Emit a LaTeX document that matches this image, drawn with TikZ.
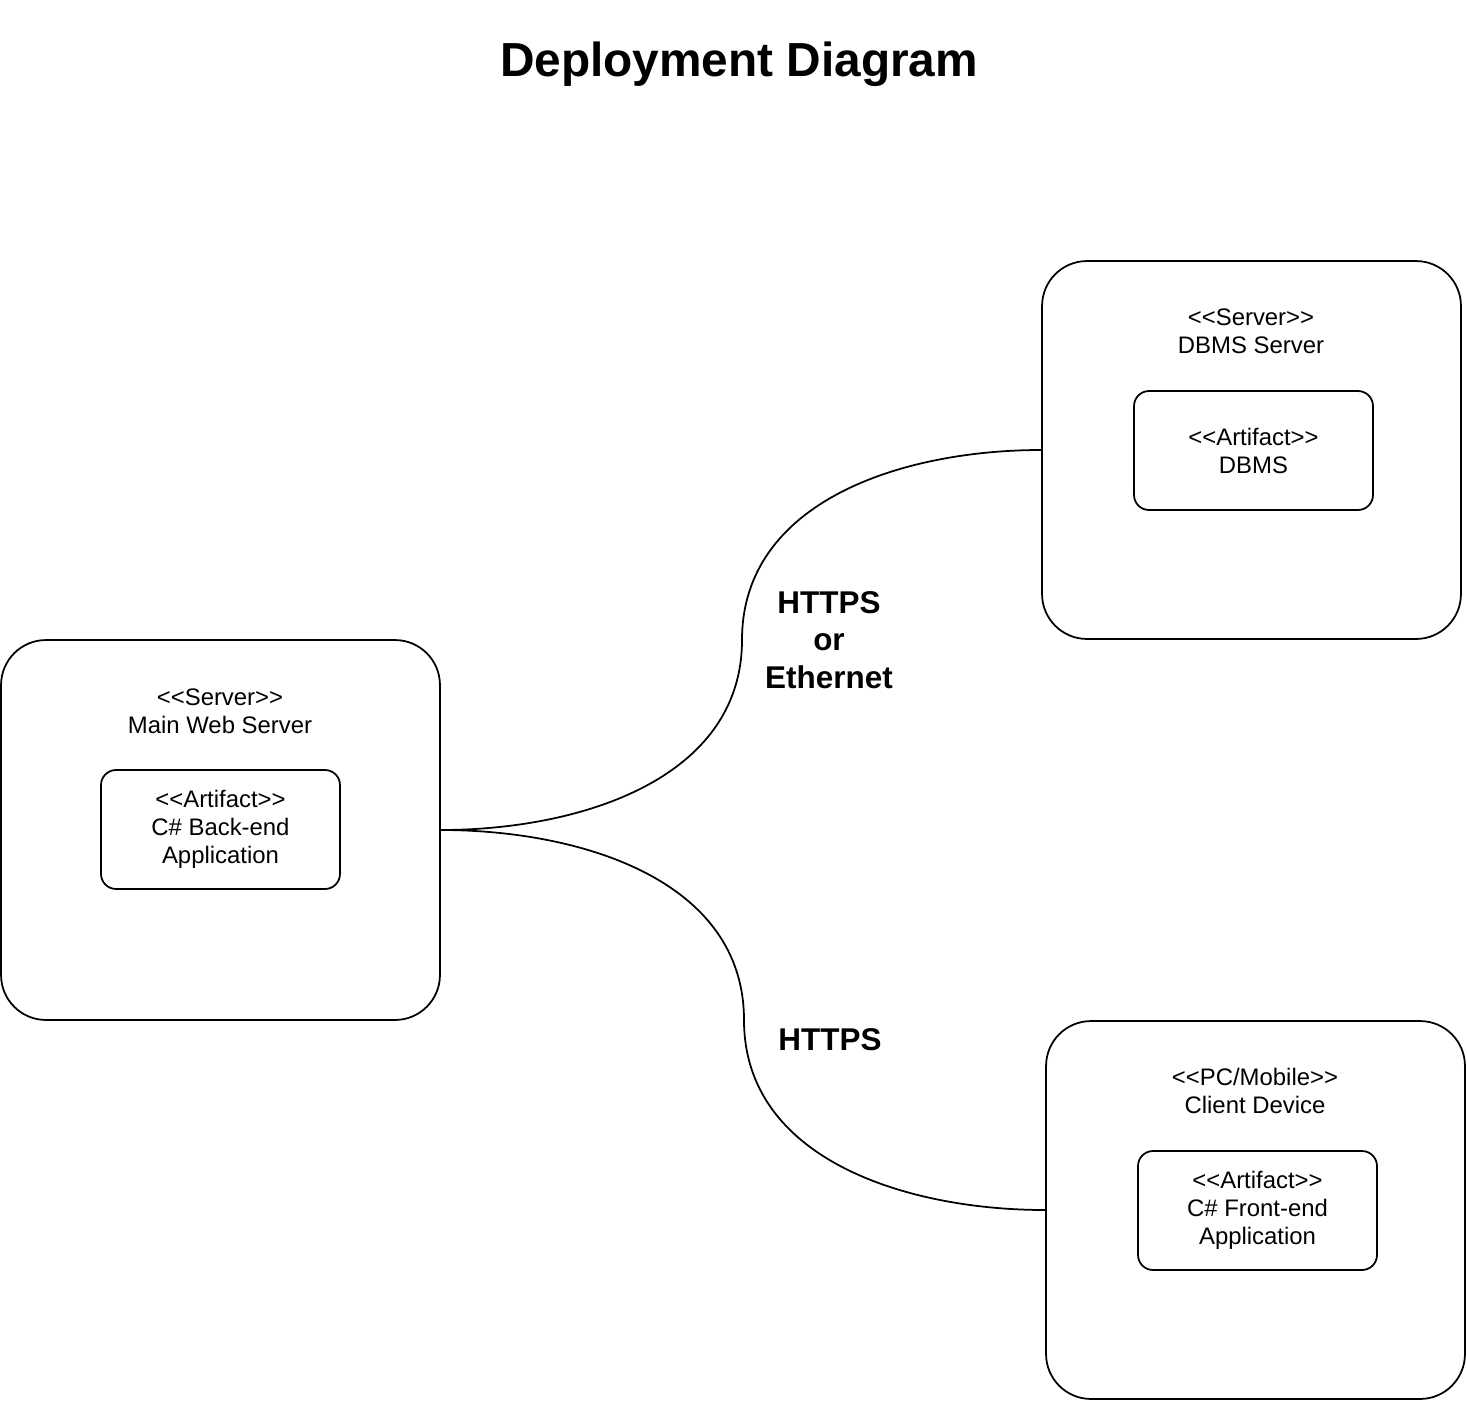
\documentclass[tikz,border=0pt]{standalone}
\usepackage{fontspec}
\setmainfont{Liberation Sans}
\newcommand\stype[1]{<\kern0pt<#1>\kern0pt>}
\begin{document}
\begin{tikzpicture}[x=0.02cm,y=-0.02cm,line width=1pt,
	node/.style ={draw, rounded corners=0.9cm, minimum width=8.78cm, minimum height=7.6cm},
	artifact/.style ={draw, rounded corners=0.3cm, minimum width=4.78cm, minimum height=2.38cm, align=center, font=\fontsize{13.6pt}{15.9pt}\selectfont},
	txt/.style ={align=center, inner sep=0pt, font=\fontsize{13.6pt}{15.9pt}\selectfont},
	link/.style ={align=center, inner sep=0pt, font=\fontsize{17.9pt}{21.5pt}\selectfont\bfseries}]
		\useasboundingbox (0,0) rectangle (1467,1403);
		\node[inner sep=0pt, font=\fontsize{27.2pt}{32pt}\selectfont\bfseries] (title) at (739,64) {Deployment Diagram};
		% nodes
		\node[node] (web) at (220.5,830) {};
		\node[node, minimum width=8.38cm, minimum height=7.56cm] (dbms) at (1251.5,450) {};
		\node[node, minimum width=8.38cm, minimum height=7.56cm] (client) at (1255.5,1210) {};
		\node[txt] (tweb) at (220,711) {\stype{Server}\\Main Web Server};
		\node[txt] (tdbms) at (1251,331) {\stype{Server}\\DBMS Server};
		\node[txt] (tclient) at (1255,1091) {\stype{PC/Mobile}\\Client Device};
		% artifacts
		\node[artifact] (a1) at (220.5,829.5) {\stype{Artifact}\\C\# Back-end\\Application};
		\node[artifact] (a2) at (1253.5,450.5) {\stype{Artifact}\\DBMS};
		\node[artifact] (a3) at (1257.5,1210.5) {\stype{Artifact}\\C\# Front-end\\Application};
		% connections
		\coordinate (m1) at (742,640);
		\coordinate (m2) at (744,1020);
		\draw (web.east) [out=0,in=-90] to (m1) [out=90,in=180] to (dbms.west);
		\draw (web.east) [out=0,in=90] to (m2) [out=-90,in=180] to (client.west);
		\node[link] (l1) at (829,640) {HTTPS\\or\\Ethernet};
		\node[link] (l2) at (830,1040) {HTTPS};
	\end{tikzpicture}
\end{document}
